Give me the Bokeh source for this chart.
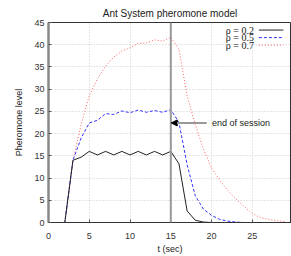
from bokeh.plotting import figure
from bokeh.models import Span, Label, Arrow, NormalHead, Range1d, FixedTicker
from bokeh.embed import file_html
from bokeh.resources import INLINE

t = list(range(0, 31))
rho02 = [0, 0, 0, 14, 14.7, 16, 15.2, 16, 15.2, 16, 15.2, 16, 15.2, 16, 15.2, 16,
         13.2, 2.6, 0.5, 0.1, 0, 0, 0, 0, 0, 0, 0, 0, 0, 0, 0]
t05 = list(range(0, 26))
rho05 = [0, 0, 0, 14, 19, 22.4, 23.0, 24.5, 24.3, 25.1, 24.7, 25.3, 24.8, 25.2, 24.8, 25.4,
         22.5, 13, 6, 3, 1.6, 0.7, 0.3, 0.1, 0, 0]
t07 = list(range(0, 30))
rho07 = [0, 0, 0, 14, 22, 28.5, 32.3, 35.2, 37.2, 38.6, 39.3, 40.3, 40.4, 41.1, 40.8, 41.7,
         39, 28.5, 22, 16.5, 12.3, 9.5, 7.2, 5.3, 3.6, 2.0, 1.1, 0.7, 0.4, 0.2]
legend_labels = ["\u03c1 = 0.2", "\u03c1 = 0.5", "\u03c1 = 0.7"]
session_end = 15

SANS = "Liberation Sans"
SERIF = "Liberation Serif"

p = figure(width=291, height=256, output_backend="svg", toolbar_location=None,
           x_range=Range1d(0, 29.8), y_range=Range1d(0, 45),
           min_border_left=48, min_border_right=0, min_border_top=22, min_border_bottom=34,
           title="Ant System pheromone model")
p.title.align = "center"
p.title.vertical_align = "bottom"
p.title.text_font = SANS
p.title.text_font_size = "10px"
p.title.text_font_style = "normal"
p.title.text_color = "#222222"
p.title.standoff = 8

p.xaxis.ticker = FixedTicker(ticks=[0, 5, 10, 15, 20, 25, 30])
p.yaxis.ticker = FixedTicker(ticks=list(range(0, 46, 5)))
p.xaxis.axis_label = "t (sec)"
p.yaxis.axis_label = "Pheromone level"
for ax in (p.xaxis[0], p.yaxis[0]):
    ax.axis_label_text_font = SANS
    ax.axis_label_text_font_size = "9px"
    ax.axis_label_text_font_style = "normal"
    ax.axis_label_text_color = "#222222"
    ax.major_label_text_font = SANS
    ax.major_label_text_font_size = "9px"
    ax.major_label_text_color = "#333333"
    ax.major_tick_in = 3
    ax.major_tick_out = 0
    ax.minor_tick_in = 0
    ax.minor_tick_out = 0
    ax.major_tick_line_color = "#555555"
p.xaxis.axis_label_standoff = 2
p.yaxis.axis_label_standoff = 7
p.xaxis.major_label_standoff = 10
p.yaxis.major_label_standoff = 4
p.xaxis.axis_line_color = "#333333"
p.xaxis.axis_line_width = 1
p.yaxis.axis_line_color = "#888888"
p.yaxis.axis_line_width = 2.5
p.outline_line_color = "#333333"
p.outline_line_width = 1
p.grid.grid_line_color = "#cccccc"
p.grid.grid_line_dash = "1 2"
p.grid.grid_line_width = 1
p.background_fill_color = "white"
p.border_fill_color = "white"

p.add_layout(Span(location=session_end, dimension="height", line_color="#999999", line_width=2))

p.line(t07, rho07, line_color="#ff6060", line_width=1, line_dash="1 2")
p.line(t05, rho05, line_color="#3333ff", line_width=1, line_dash="3 2")
p.line(t, rho02, line_color="#222222", line_width=1)

# end of session annotation
p.add_layout(Arrow(x_start=19.4, y_start=22.4, x_end=15.05, y_end=22.4,
                   line_color="#999999", line_width=2,
                   end=NormalHead(size=6, fill_color="black", line_color="black")))
p.add_layout(Label(x=20.05, y=22.4, text="end of session", text_font=SANS,
                   text_font_size="9px", text_baseline="middle", text_color="#222222"))

# legend (label then sample, gnuplot style)
leg_y = [43.3, 41.6, 39.9]
leg_style = [("#222222", "solid"), ("#3333ff", "3 2"), ("#ff6060", "1 2")]
for lbl, yy, (col, dash) in zip(legend_labels, leg_y, leg_style):
    p.add_layout(Label(x=25.2, y=yy, text=lbl, text_font=SERIF, text_font_size="10px",
                       text_align="right", text_baseline="middle", text_color="#222222"))
    p.add_layout(Arrow(x_start=25.8, y_start=yy, x_end=28.8, y_end=yy, end=None,
                       line_color=col, line_width=1, line_dash=dash))

open("out.html", "w").write(file_html(p, INLINE))
